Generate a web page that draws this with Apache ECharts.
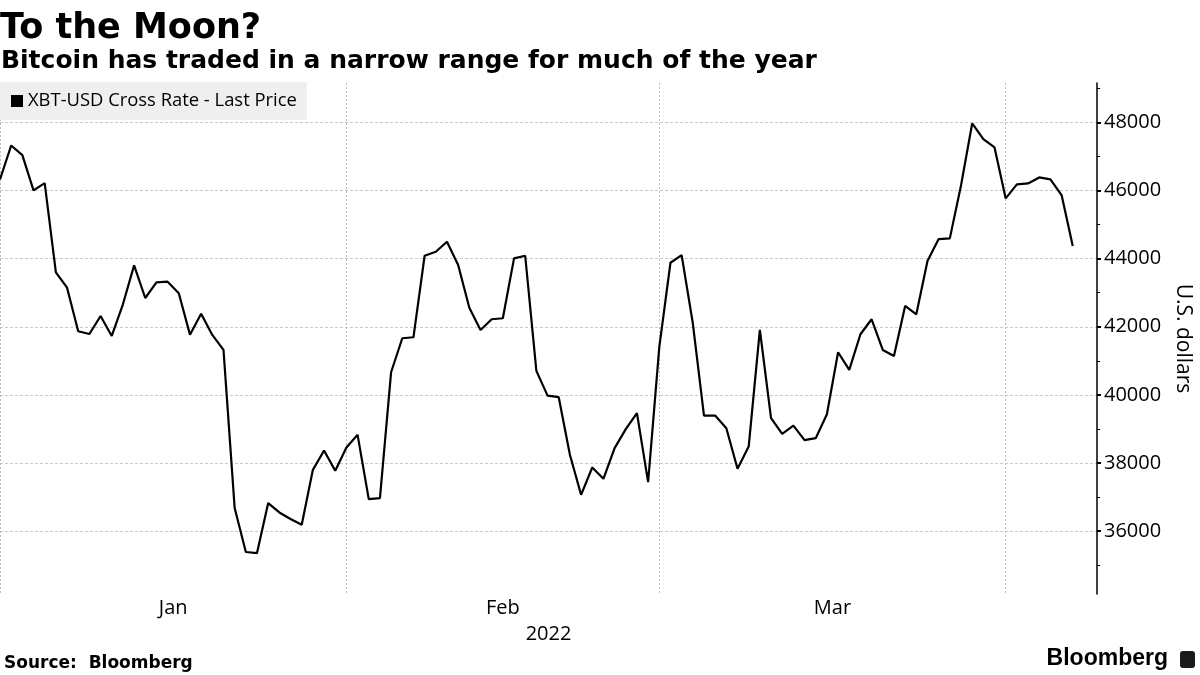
<!DOCTYPE html>
<html>
<head>
<meta charset="utf-8">
<script src="https://cdn.jsdelivr.net/npm/echarts@6/dist/echarts.min.js"></script>
<style>
  html, body { margin: 0; padding: 0; background: #fff; }
  #chart { width: 1200px; height: 675px; }
</style>
</head>
<body>
<div id="chart"></div>
<script>
// ---- Data (daily XBT-USD, starting 2022-01-01) ----
const startDate = [2022, 0, 1];
const prices = [
  46328, 47325, 47040, 46005, 46219, 43599, 43147, 41867, 41788, 42316,
  41730, 42660, 43804, 42845, 43305, 43323, 42982, 41768, 42384, 41759,
  41319, 36674, 35383, 35353, 36820, 36545, 36351, 36184, 37797, 38364,
  37768, 38452, 38825, 36938, 36967, 40664, 41662, 41691, 44086, 44203,
  44497, 43813, 42560, 41906, 42220, 42249, 44009, 44086, 40703, 39978,
  39931, 38238, 37064, 37866, 37534, 38434, 38992, 39461, 37437, 41400,
  43880, 44106, 42102, 39391, 39391, 39021, 37827, 38481, 41906, 39315,
  38854, 39098, 38669, 38727, 39432, 41251, 40732, 41780, 42220, 41319,
  41143, 42610, 42366, 43930, 44576, 44596, 46150, 47971, 47510, 47266,
  45770, 46181, 46210, 46386, 46328, 45867, 44370
];
const seriesName = 'XBT-USD Cross Rate - Last Price';
const monthNames = ['Jan', 'Feb', 'Mar'];
const yearLabel = '2022';
const yMajorTicks = [36000, 38000, 40000, 42000, 44000, 46000, 48000];
const yMinorTicks = [35000, 37000, 39000, 41000, 43000, 45000, 47000, 49000];

// ---- Build ----
const DAY = 86400000;
const t0 = Date.UTC(startDate[0], startDate[1], startDate[2]);
const seriesData = prices.map((v, i) => [t0 + i * DAY, v]);
const monthStarts = [0, 1, 2, 3].map(m => Date.UTC(2022, m, 1));
const monthMids = monthNames.map((_, i) => (monthStarts[i] + monthStarts[i + 1]) / 2);
const xMin = t0;
const xMax = t0 + 98.17 * DAY;

const chart = echarts.init(document.getElementById('chart'), null, { renderer: 'canvas' });
const labelFont = "'Open Sans', sans-serif";
const boldFont = "'DejaVu Sans', sans-serif";

chart.setOption({
  animation: false,
  backgroundColor: '#ffffff',
  title: [
    { text: 'To the Moon?', left: 0, top: 11, padding: 0,
      textStyle: { fontFamily: boldFont, fontWeight: 'bold', fontSize: 35, color: '#000' } },
    { text: 'Bitcoin has traded in a narrow range for much of the year', left: 1, top: 49, padding: 0,
      textStyle: { fontFamily: boldFont, fontWeight: 'bold', fontSize: 25, color: '#000' } },
    { text: 'Source:  Bloomberg', left: 4, top: 655, padding: 0,
      textStyle: { fontFamily: boldFont, fontWeight: 'bold', fontSize: 17, color: '#000' } },
    { text: 'Bloomberg', right: 32, top: 647, padding: 0,
      textStyle: { fontFamily: "'Liberation Sans', Arial, sans-serif", fontWeight: 'bold', fontSize: 23, color: '#000' } }
  ],
  graphic: [
    { type: 'rect', right: 5, top: 651, shape: { width: 15, height: 17, r: 3 }, style: { fill: '#1a1a1a' } }
  ],
  legend: {
    left: 0, top: 82,
    backgroundColor: '#efefef',
    padding: [10, 10, 10, 11],
    icon: 'rect', itemWidth: 12, itemHeight: 12, itemGap: 10,
    textStyle: { fontFamily: labelFont, fontSize: 18.4, color: '#000' },
    data: [seriesName]
  },
  grid: { left: 0, right: 103, top: 83, bottom: 81, containLabel: false, outerBoundsMode: 'none' },
  xAxis: {
    type: 'value',
    min: xMin, max: xMax,
    axisLine: { show: false },
    axisTick: { show: false, customValues: monthStarts },
    splitLine: { show: true, lineStyle: { color: '#bdbdbd', type: [2, 2], width: 1 } },
    axisLabel: {
      customValues: monthMids,
      margin: 4,
      fontFamily: labelFont, fontSize: 20, color: '#000',
      formatter: v => monthNames[new Date(v).getUTCMonth()]
    },
    name: yearLabel,
    nameLocation: 'middle',
    nameGap: 30,
    nameTextStyle: { fontFamily: labelFont, fontSize: 20, color: '#000' }
  },
  yAxis: [
    {
      type: 'value', position: 'right',
      min: 34150, max: 49160,
      axisLine: { show: true, lineStyle: { color: '#000', width: 1.5 } },
      axisTick: { show: true, inside: false, length: 4, customValues: yMajorTicks, lineStyle: { color: '#000', width: 2 } },
      axisLabel: { customValues: yMajorTicks, margin: 7, fontFamily: labelFont, fontSize: 20, color: '#000',
        formatter: v => String(v) },
      splitLine: { show: true, lineStyle: { color: '#c8c8c8', type: [3, 2], width: 1 } },
      name: 'U.S. dollars', nameLocation: 'middle', nameRotate: -90, nameGap: 70,
      nameTextStyle: { fontFamily: labelFont, fontSize: 21, color: '#000' }
    },
    {
      type: 'value', position: 'right',
      min: 34150, max: 49160,
      axisLine: { show: false },
      axisTick: { show: true, inside: false, length: 3, customValues: yMinorTicks, lineStyle: { color: '#000', width: 1 } },
      axisLabel: { show: false },
      splitLine: { show: false }
    }
  ],
  series: [{
    name: seriesName,
    type: 'line',
    data: seriesData,
    showSymbol: false,
    symbol: 'none',
    itemStyle: { color: '#000' },
    lineStyle: { color: '#000', width: 2.2 }
  }]
});
</script>
</body>
</html>
